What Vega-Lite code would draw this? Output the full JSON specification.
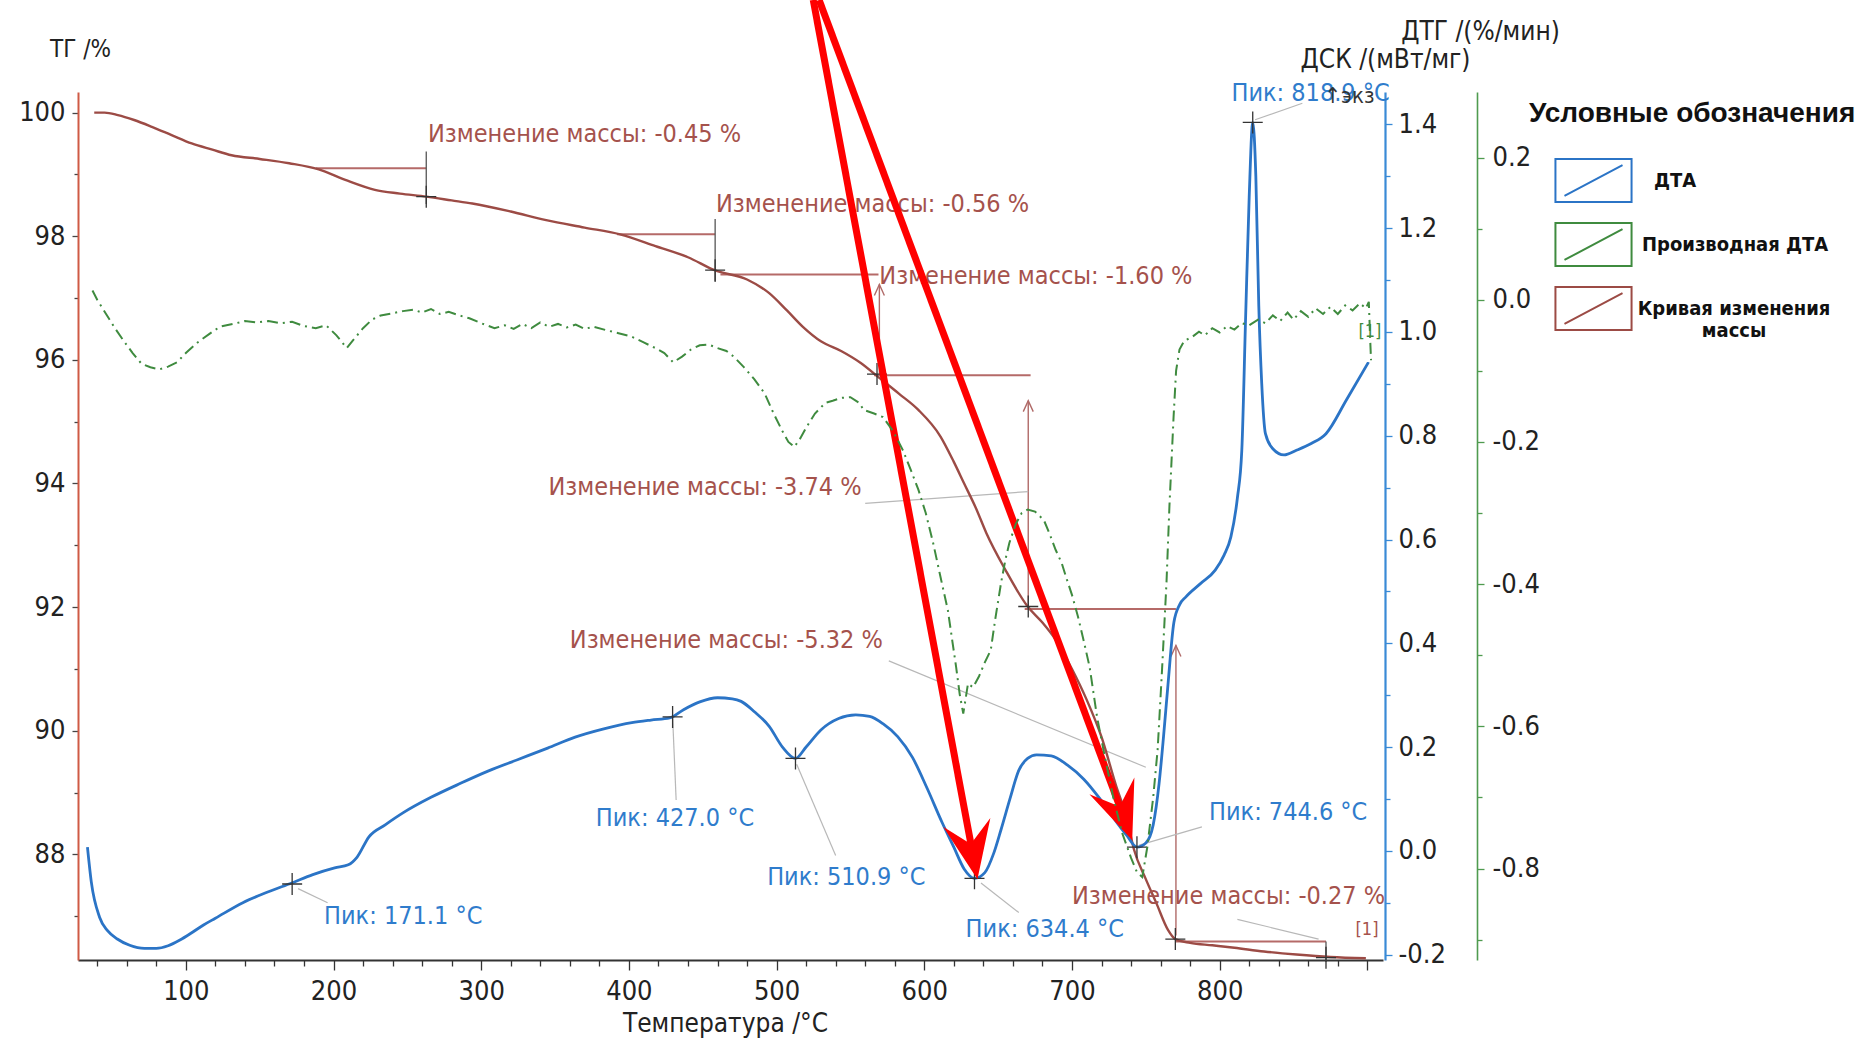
{
  "$schema": "https://vega.github.io/schema/vega-lite/v6.json",
  "width": 1305,
  "height": 868,
  "autosize": {"type": "none"},
  "padding": {"left": 78, "top": 92, "right": 475, "bottom": 80},
  "background": "white",
  "config": {
    "view": {"stroke": null},
    "font": "Liberation Sans Narrow, Arial Narrow, DejaVu Sans Condensed, sans-serif",
    "axis": {
      "grid": false,
      "labelFont": "Liberation Sans Narrow, Arial Narrow, DejaVu Sans Condensed, sans-serif",
      "labelFontSize": 27,
      "labelColor": "#222",
      "titleFont": "Liberation Sans Narrow, Arial Narrow, DejaVu Sans Condensed, sans-serif",
      "titleFontSize": 26,
      "titleFontWeight": "normal",
      "titleColor": "#222",
      "labelOverlap": false,
      "labelFlush": false,
      "tickWidth": 1.3
    }
  },
  "datasets": {
    "tg": [
      {"t": 38, "v": 100.0}, {"t": 45, "v": 100.0}, {"t": 54, "v": 99.96}, {"t": 65, "v": 99.88}, {"t": 77, "v": 99.77},
      {"t": 90, "v": 99.64}, {"t": 104, "v": 99.5}, {"t": 118, "v": 99.4}, {"t": 131, "v": 99.31}, {"t": 150, "v": 99.25},
      {"t": 170, "v": 99.18}, {"t": 190, "v": 99.08}, {"t": 208, "v": 98.91}, {"t": 228, "v": 98.75}, {"t": 245, "v": 98.69},
      {"t": 263, "v": 98.64}, {"t": 280, "v": 98.58}, {"t": 294, "v": 98.53}, {"t": 320, "v": 98.4}, {"t": 344, "v": 98.26},
      {"t": 370, "v": 98.14}, {"t": 394, "v": 98.03}, {"t": 418, "v": 97.84}, {"t": 440, "v": 97.66}, {"t": 458, "v": 97.45},
      {"t": 480, "v": 97.3}, {"t": 495, "v": 97.08}, {"t": 507, "v": 96.8}, {"t": 518, "v": 96.53}, {"t": 530, "v": 96.3},
      {"t": 544, "v": 96.14}, {"t": 557, "v": 95.95}, {"t": 570, "v": 95.7}, {"t": 583, "v": 95.45}, {"t": 596, "v": 95.19},
      {"t": 611, "v": 94.76}, {"t": 620, "v": 94.35}, {"t": 627, "v": 94.0}, {"t": 635, "v": 93.6}, {"t": 642, "v": 93.2},
      {"t": 655, "v": 92.6}, {"t": 670, "v": 92.01}, {"t": 680, "v": 91.75}, {"t": 689, "v": 91.47}, {"t": 700, "v": 91.0},
      {"t": 710, "v": 90.5}, {"t": 720, "v": 89.9}, {"t": 730, "v": 89.1}, {"t": 737, "v": 88.6}, {"t": 742, "v": 88.08},
      {"t": 750, "v": 87.6}, {"t": 757, "v": 87.22}, {"t": 765, "v": 86.78}, {"t": 770, "v": 86.63}, {"t": 780, "v": 86.57},
      {"t": 795, "v": 86.53}, {"t": 810, "v": 86.49}, {"t": 830, "v": 86.43}, {"t": 852, "v": 86.38}, {"t": 875, "v": 86.34},
      {"t": 899, "v": 86.32}
    ],
    "dsc": [
      {"t": 33.4, "v": 0.007}, {"t": 36, "v": -0.06}, {"t": 41.6, "v": -0.128}, {"t": 47, "v": -0.154}, {"t": 53.6, "v": -0.17},
      {"t": 62, "v": -0.182}, {"t": 72, "v": -0.188}, {"t": 80, "v": -0.188}, {"t": 88, "v": -0.183}, {"t": 96, "v": -0.172},
      {"t": 104, "v": -0.158}, {"t": 112, "v": -0.143}, {"t": 120, "v": -0.13}, {"t": 138.6, "v": -0.1}, {"t": 155, "v": -0.08},
      {"t": 171.7, "v": -0.062}, {"t": 186, "v": -0.046},
      {"t": 200.8, "v": -0.033}, {"t": 210, "v": -0.027}, {"t": 216, "v": -0.012}, {"t": 224, "v": 0.027}, {"t": 235, "v": 0.05},
      {"t": 247, "v": 0.073}, {"t": 266, "v": 0.103}, {"t": 286, "v": 0.13}, {"t": 305, "v": 0.154}, {"t": 325, "v": 0.176},
      {"t": 345, "v": 0.198}, {"t": 363.6, "v": 0.219}, {"t": 383, "v": 0.235}, {"t": 402, "v": 0.247}, {"t": 415, "v": 0.252},
      {"t": 427.6, "v": 0.256}, {"t": 437, "v": 0.272}, {"t": 448, "v": 0.287}, {"t": 460, "v": 0.295}, {"t": 470, "v": 0.293},
      {"t": 476, "v": 0.288}, {"t": 485, "v": 0.268}, {"t": 495, "v": 0.24}, {"t": 504, "v": 0.2}, {"t": 512.8, "v": 0.178},
      {"t": 520, "v": 0.2}, {"t": 530, "v": 0.233}, {"t": 542, "v": 0.255}, {"t": 553.6, "v": 0.262}, {"t": 563, "v": 0.259},
      {"t": 572, "v": 0.245}, {"t": 582, "v": 0.22}, {"t": 592, "v": 0.18}, {"t": 602, "v": 0.12}, {"t": 612, "v": 0.055},
      {"t": 620, "v": 0.007}, {"t": 627, "v": -0.035}, {"t": 634, "v": -0.053}, {"t": 641, "v": -0.042}, {"t": 647, "v": -0.005},
      {"t": 652, "v": 0.041}, {"t": 658, "v": 0.1}, {"t": 664, "v": 0.155}, {"t": 670, "v": 0.178}, {"t": 676, "v": 0.185},
      {"t": 686, "v": 0.183}, {"t": 697, "v": 0.165}, {"t": 708, "v": 0.138}, {"t": 719, "v": 0.1}, {"t": 729, "v": 0.06},
      {"t": 737, "v": 0.03}, {"t": 744, "v": 0.007}, {"t": 750, "v": 0.015}, {"t": 755, "v": 0.05}, {"t": 759, "v": 0.13},
      {"t": 762, "v": 0.22}, {"t": 765, "v": 0.32}, {"t": 769, "v": 0.44}, {"t": 773, "v": 0.475}, {"t": 777, "v": 0.489},
      {"t": 787, "v": 0.515}, {"t": 797, "v": 0.541}, {"t": 803, "v": 0.57}, {"t": 807.6, "v": 0.605}, {"t": 812, "v": 0.68},
      {"t": 815, "v": 0.772}, {"t": 817.6, "v": 1.03}, {"t": 820, "v": 1.26}, {"t": 822.4, "v": 1.404}, {"t": 824.5, "v": 1.3},
      {"t": 826.5, "v": 1.05}, {"t": 828.5, "v": 0.9}, {"t": 831, "v": 0.804}, {"t": 836, "v": 0.775}, {"t": 843.6, "v": 0.763},
      {"t": 852, "v": 0.772}, {"t": 862, "v": 0.785}, {"t": 872, "v": 0.804}, {"t": 886, "v": 0.87}, {"t": 900.8, "v": 0.942}
    ],
    "dtg": [
      {"t": 36.8, "v": 0.013}, {"t": 40, "v": 0.0}, {"t": 46, "v": -0.02}, {"t": 52, "v": -0.04}, {"t": 58, "v": -0.058},
      {"t": 64, "v": -0.075}, {"t": 70, "v": -0.09}, {"t": 76, "v": -0.095}, {"t": 82, "v": -0.098}, {"t": 88, "v": -0.094},
      {"t": 94, "v": -0.088}, {"t": 100, "v": -0.075}, {"t": 108, "v": -0.06}, {"t": 116, "v": -0.048}, {"t": 123, "v": -0.038},
      {"t": 132, "v": -0.034}, {"t": 140, "v": -0.03}, {"t": 148, "v": -0.032}, {"t": 156, "v": -0.03}, {"t": 164, "v": -0.033},
      {"t": 172, "v": -0.031}, {"t": 180, "v": -0.037}, {"t": 188, "v": -0.04}, {"t": 195, "v": -0.036}, {"t": 202, "v": -0.05},
      {"t": 209, "v": -0.068}, {"t": 214, "v": -0.055}, {"t": 220, "v": -0.04}, {"t": 226, "v": -0.028}, {"t": 232, "v": -0.022},
      {"t": 240, "v": -0.019}, {"t": 247, "v": -0.016}, {"t": 254, "v": -0.014}, {"t": 260, "v": -0.018}, {"t": 266, "v": -0.013},
      {"t": 272, "v": -0.02}, {"t": 278, "v": -0.017}, {"t": 285, "v": -0.022}, {"t": 292, "v": -0.026}, {"t": 300, "v": -0.033},
      {"t": 309, "v": -0.04}, {"t": 316, "v": -0.036}, {"t": 322, "v": -0.041}, {"t": 328, "v": -0.034}, {"t": 334, "v": -0.04},
      {"t": 340, "v": -0.032}, {"t": 346, "v": -0.038}, {"t": 352, "v": -0.034}, {"t": 358, "v": -0.039}, {"t": 364, "v": -0.035},
      {"t": 370, "v": -0.041}, {"t": 376, "v": -0.038}, {"t": 385, "v": -0.043}, {"t": 393, "v": -0.047}, {"t": 402, "v": -0.052},
      {"t": 410, "v": -0.06}, {"t": 418, "v": -0.068}, {"t": 424, "v": -0.075}, {"t": 430, "v": -0.088}, {"t": 436, "v": -0.08},
      {"t": 442, "v": -0.07}, {"t": 448, "v": -0.064}, {"t": 454, "v": -0.063}, {"t": 460, "v": -0.068}, {"t": 466, "v": -0.072},
      {"t": 471, "v": -0.08}, {"t": 478, "v": -0.095}, {"t": 485, "v": -0.112}, {"t": 492, "v": -0.132}, {"t": 498, "v": -0.16},
      {"t": 504, "v": -0.185}, {"t": 508, "v": -0.2}, {"t": 512, "v": -0.207}, {"t": 516, "v": -0.195}, {"t": 520, "v": -0.18},
      {"t": 526, "v": -0.16}, {"t": 533, "v": -0.145}, {"t": 538, "v": -0.142}, {"t": 544, "v": -0.138}, {"t": 550, "v": -0.137},
      {"t": 556, "v": -0.145}, {"t": 559, "v": -0.155}, {"t": 566, "v": -0.16}, {"t": 572, "v": -0.165}, {"t": 579, "v": -0.185},
      {"t": 585.6, "v": -0.212}, {"t": 591, "v": -0.24}, {"t": 596, "v": -0.267}, {"t": 601, "v": -0.3}, {"t": 606, "v": -0.342},
      {"t": 611, "v": -0.39}, {"t": 616, "v": -0.437}, {"t": 619, "v": -0.48}, {"t": 621.6, "v": -0.517}, {"t": 624, "v": -0.555},
      {"t": 626.4, "v": -0.582}, {"t": 629.6, "v": -0.54}, {"t": 633, "v": -0.545}, {"t": 637, "v": -0.53}, {"t": 641, "v": -0.51},
      {"t": 645, "v": -0.493}, {"t": 648, "v": -0.45}, {"t": 652, "v": -0.398}, {"t": 655, "v": -0.365}, {"t": 657.6, "v": -0.342},
      {"t": 662, "v": -0.315}, {"t": 666, "v": -0.3}, {"t": 670, "v": -0.295}, {"t": 675, "v": -0.298}, {"t": 681, "v": -0.31},
      {"t": 685, "v": -0.33}, {"t": 689, "v": -0.352}, {"t": 693, "v": -0.37}, {"t": 696, "v": -0.39}, {"t": 700, "v": -0.415},
      {"t": 704, "v": -0.445}, {"t": 708, "v": -0.48}, {"t": 712, "v": -0.517}, {"t": 717, "v": -0.587}, {"t": 722, "v": -0.64},
      {"t": 728, "v": -0.7}, {"t": 734, "v": -0.75}, {"t": 740, "v": -0.785}, {"t": 744, "v": -0.805}, {"t": 747.6, "v": -0.812},
      {"t": 751, "v": -0.77}, {"t": 755, "v": -0.7}, {"t": 758, "v": -0.633}, {"t": 761, "v": -0.52}, {"t": 764, "v": -0.398},
      {"t": 766, "v": -0.29}, {"t": 768.8, "v": -0.165}, {"t": 770.5, "v": -0.1}, {"t": 772.8, "v": -0.07}, {"t": 776, "v": -0.058},
      {"t": 781.6, "v": -0.052}, {"t": 786, "v": -0.045}, {"t": 790, "v": -0.05}, {"t": 795, "v": -0.04}, {"t": 800, "v": -0.046},
      {"t": 805, "v": -0.037}, {"t": 810, "v": -0.042}, {"t": 815, "v": -0.033}, {"t": 820, "v": -0.036}, {"t": 826, "v": -0.028},
      {"t": 831, "v": -0.033}, {"t": 836, "v": -0.022}, {"t": 841, "v": -0.03}, {"t": 846, "v": -0.018}, {"t": 850, "v": -0.028},
      {"t": 855, "v": -0.016}, {"t": 860, "v": -0.024}, {"t": 865, "v": -0.012}, {"t": 870, "v": -0.02}, {"t": 875, "v": -0.01},
      {"t": 880, "v": -0.02}, {"t": 885, "v": -0.008}, {"t": 890, "v": -0.015}, {"t": 895, "v": -0.005}, {"t": 899, "v": -0.012},
      {"t": 901, "v": -0.003}, {"t": 902, "v": -0.06}, {"t": 902.5, "v": -0.085}
    ],
    "tgh": [
      {"t": 188, "t2": 262.8, "v": 99.1, "v2": 99.1},
      {"t": 392, "t2": 458.4, "v": 98.03, "v2": 98.03},
      {"t": 462, "t2": 569, "v": 97.38, "v2": 97.38},
      {"t": 566, "t2": 672, "v": 95.75, "v2": 95.75},
      {"t": 668, "t2": 770.4, "v": 91.97, "v2": 91.97},
      {"t": 770, "t2": 872, "v": 86.59, "v2": 86.59}
    ],
    "tgv": [
      {"t": 262.8, "t2": 262.8, "v": 99.37, "v2": 98.52},
      {"t": 458.4, "t2": 458.4, "v": 98.28, "v2": 97.26},
      {"t": 872, "t2": 872, "v": 86.59, "v2": 86.26}
    ],
    "tga": [
      {"t": 569.6, "t2": 569.6, "v": 95.77, "v2": 97.22},
      {"t": 670.4, "t2": 670.4, "v": 92.01, "v2": 95.34},
      {"t": 770.4, "t2": 770.4, "v": 86.69, "v2": 91.38}
    ],
    "tgl": [
      {"t": 560, "t2": 670.4, "v": 93.68, "v2": 93.87},
      {"t": 576, "t2": 750, "v": 91.13, "v2": 89.41},
      {"t": 812, "t2": 867, "v": 86.95, "v2": 86.63}
    ],
    "tgx": [
      {"t": 262.8, "v": 98.64}, {"t": 458.4, "v": 97.45}, {"t": 568, "v": 95.77},
      {"t": 670.4, "v": 92.01}, {"t": 770, "v": 86.63}, {"t": 872, "v": 86.33}
    ],
    "tgtext": [
      {"t": 264, "v": 99.655, "label": "Изменение массы: -0.45 %"},
      {"t": 459, "v": 98.52, "label": "Изменение массы: -0.56 %"},
      {"t": 569.6, "v": 97.36, "label": "Изменение массы: -1.60 %"},
      {"t": 345.6, "v": 93.95, "label": "Изменение массы: -3.74 %"},
      {"t": 360, "v": 91.47, "label": "Изменение массы: -5.32 %"},
      {"t": 700, "v": 87.32, "label": "Изменение массы: -0.27 %"}
    ],
    "tgref": [{"t": 892, "v": 86.78, "label": "[1]"}],
    "dsctext": [
      {"t": 193.6, "v": -0.126, "label": "Пик: 171.1 °C"},
      {"t": 377.6, "v": 0.064, "label": "Пик: 427.0 °C"},
      {"t": 493.6, "v": -0.05, "label": "Пик: 510.9 °C"},
      {"t": 628, "v": -0.151, "label": "Пик: 634.4 °C"},
      {"t": 792.8, "v": 0.075, "label": "Пик: 744.6 °C"},
      {"t": 808, "v": 1.461, "label": "Пик: 818.9 °C"}
    ],
    "exo": [{"t": 871, "v": 1.455, "label": "↑экз"}],
    "dscx": [
      {"t": 172, "v": -0.064}, {"t": 429.6, "v": 0.258}, {"t": 512.8, "v": 0.178},
      {"t": 634, "v": -0.053}, {"t": 744, "v": 0.007}, {"t": 822.4, "v": 1.404}
    ],
    "dscl": [
      {"t": 176, "t2": 196, "v": -0.073, "v2": -0.1},
      {"t": 429.6, "t2": 432, "v": 0.258, "v2": 0.098},
      {"t": 513.6, "t2": 540, "v": 0.167, "v2": -0.009},
      {"t": 638.4, "t2": 664, "v": -0.062, "v2": -0.119},
      {"t": 745.6, "t2": 788, "v": 0.011, "v2": 0.046},
      {"t": 824, "t2": 856, "v": 1.409, "v2": 1.441}
    ],
    "shafts": [
      {"t": 524.8, "v": 1.64, "t2": 631.7, "v2": 0.0114},
      {"t": 528.8, "v": 1.64, "t2": 732.6, "v2": 0.0836}
    ],
    "heads": [
      {"t": 636, "v": -0.055, "k": "a"},
      {"t": 740.8, "v": 0.0205, "k": "b"}
    ],
    "dtgref": [{"t": 894, "v": -0.045, "label": "[1]"}]
  },
  "resolve": {"scale": {"y": "independent"}},
  "encoding": {
    "x": {
      "field": "t",
      "type": "quantitative",
      "scale": {"domain": [27, 910.6], "nice": false, "zero": false},
      "axis": {
        "orient": "bottom",
        "values": [40, 60, 80, 100, 120, 140, 160, 180, 200, 220, 240, 260, 280, 300, 320, 340, 360, 380, 400, 420, 440, 460, 480, 500, 520, 540, 560, 580, 600, 620, 640, 660, 680, 700, 720, 740, 760, 780, 800, 820, 840, 860, 880, 900],
        "labelExpr": "datum.value % 100 === 0 && datum.value < 900 ? datum.label : ''",
        "tickSize": {"condition": {"test": "datum.value % 100 === 0", "value": 10}, "value": 6},
        "tickColor": "#333",
        "labelPadding": 8,
        "domainColor": "#333",
        "domainWidth": 2,
        "title": "Температура /°C",
        "titleX": 647,
        "titleY": 63,
        "titleAlign": "center",
        "titleBaseline": "middle"
      }
    }
  },
  "layer": [
    {
      "encoding": {
        "y": {
          "field": "v",
          "type": "quantitative",
          "scale": {"domain": [86.292, 100.333], "nice": false, "zero": false},
          "axis": {
            "orient": "left",
            "values": [87, 88, 89, 90, 91, 92, 93, 94, 95, 96, 97, 98, 99, 100],
            "labelExpr": "datum.value % 2 === 0 ? datum.label : ''",
            "tickSize": {"condition": {"test": "datum.value % 2 === 0", "value": 6}, "value": 4},
            "tickColor": "#444",
            "labelPadding": 7,
            "domainColor": "#cf5a45",
            "domainWidth": 2,
            "title": "ТГ /%",
            "titleAngle": 0,
            "titleX": 2,
            "titleY": -43,
            "titleAlign": "center",
            "titleBaseline": "middle",
            "titleFontSize": 24
          }
        }
      },
      "layer": [
        {
          "data": {"name": "tgh"},
          "mark": {"type": "rule", "color": "#b56a68", "strokeWidth": 2},
          "encoding": {"x2": {"field": "t2"}, "y2": {"field": "v2"}}
        },
        {
          "data": {"name": "tgv"},
          "mark": {"type": "rule", "color": "#555", "strokeWidth": 1.3},
          "encoding": {"x2": {"field": "t2"}, "y2": {"field": "v2"}}
        },
        {
          "data": {"name": "tga"},
          "mark": {"type": "rule", "color": "#b06a68", "strokeWidth": 1.4},
          "encoding": {"x2": {"field": "t2"}, "y2": {"field": "v2"}}
        },
        {
          "data": {"name": "tga"},
          "mark": {"type": "point", "shape": "M-5,11L0,0L5,11", "size": 4, "filled": false, "opacity": 1, "stroke": "#b06a68", "strokeWidth": 1.4},
          "encoding": {"x": {"field": "t2", "type": "quantitative"}, "y": {"field": "v2", "type": "quantitative"}}
        },
        {
          "data": {"name": "tgl"},
          "mark": {"type": "rule", "color": "#b8b8b8", "strokeWidth": 1.2},
          "encoding": {"x2": {"field": "t2"}, "y2": {"field": "v2"}}
        },
        {
          "data": {"name": "tg"},
          "mark": {"type": "line", "strokeWidth": 2.4, "interpolate": "monotone"},
          "encoding": {
            "color": {
              "datum": "Кривая изменения массы",
              "type": "nominal",
              "scale": {
                "domain": ["ДТА", "Производная ДТА", "Кривая изменения массы"],
                "range": ["#2b74c6", "#3f8b3f", "#9c4b45"]
              },
              "legend": {
                "orient": "none",
                "legendX": 1451,
                "legendY": 8,
                "direction": "vertical",
                "title": "Условные обозначения",
                "titleFont": "Liberation Sans, Arial, sans-serif",
                "titleFontSize": 28,
                "titleFontWeight": "bold",
                "titleColor": "#111",
                "titlePadding": 30,
                "titleLimit": 500,
                "symbolType": "M-1.77,-1H1.77V1H-1.77Z M-1.35,0.72L1.35,-0.72",
                "symbolSize": 1849,
                "symbolStrokeWidth": 2,
                "symbolOffset": 42,
                "labelOffset": 26,
                "labelFont": "Liberation Sans Narrow, Arial Narrow, DejaVu Sans Condensed, sans-serif",
                "labelFontSize": 20,
                "labelFontWeight": "bold",
                "labelColor": "#111",
                "labelLimit": 400,
                "rowPadding": 13,
                "labelExpr": "datum.value === 'Кривая изменения массы' ? ['Кривая изменения', 'массы'] : datum.label",
                "encode": {
                  "symbols": {
                    "update": {
                      "stroke": {"signal": "datum.value === 'ДТА' ? '#2060d0' : datum.value === 'Производная ДТА' ? '#17801a' : '#e01c1c'"},
                      "strokeDash": {"value": []},
                      "fill": {"value": "transparent"}
                    }
                  },
                  "labels": {
                    "update": {
                      "align": {"signal": "datum.value === 'Кривая изменения массы' ? 'center' : 'left'"},
                      "dx": {"signal": "datum.value === 'Кривая изменения массы' ? 92 : (datum.value === 'ДТА' ? 12 : 0)"}
                    }
                  }
                }
              }
            }
          }
        },
        {
          "data": {"name": "tgx"},
          "mark": {"type": "point", "shape": "M-10,0H10M0,-11V11", "size": 4, "filled": false, "opacity": 1, "stroke": "#333", "strokeWidth": 1.3}
        },
        {
          "data": {"name": "tgtext"},
          "mark": {"type": "text", "align": "left", "baseline": "middle", "fontSize": 25, "color": "#a5524c"},
          "encoding": {"text": {"field": "label"}}
        },
        {
          "data": {"name": "tgref"},
          "mark": {"type": "text", "align": "left", "baseline": "middle", "fontSize": 18, "color": "#a5524c"},
          "encoding": {"text": {"field": "label"}}
        }
      ]
    },
    {
      "encoding": {
        "y": {
          "field": "v",
          "type": "quantitative",
          "scale": {"domain": [-0.2105, 1.4626], "nice": false, "zero": false},
          "axis": {
            "orient": "right",
            "offset": 2,
            "values": [-0.2, -0.1, 0, 0.1, 0.2, 0.3, 0.4, 0.5, 0.6, 0.7, 0.8, 0.9, 1.0, 1.1, 1.2, 1.3, 1.4],
            "labelExpr": "abs(round(datum.value * 10)) % 2 === 0 ? (datum.value < -0.001 ? '-' : '') + format(abs(datum.value), '.1f') : ''",
            "tickSize": {"condition": {"test": "abs(round(datum.value * 10)) % 2 === 0", "value": 7}, "value": 5},
            "tickColor": "#3a8ad6",
            "labelPadding": 6,
            "domainColor": "#3a8ad6",
            "domainWidth": 2.2,
            "title": "ДСК /(мВт/мг)",
            "titleAngle": 0,
            "titleX": 0,
            "titleY": -33,
            "titleAlign": "center",
            "titleBaseline": "middle",
            "titleFontSize": 26
          }
        }
      },
      "layer": [
        {
          "data": {"name": "dscl"},
          "mark": {"type": "rule", "color": "#b8b8b8", "strokeWidth": 1.2},
          "encoding": {"x2": {"field": "t2"}, "y2": {"field": "v2"}}
        },
        {
          "data": {"name": "dsc"},
          "mark": {"type": "line", "strokeWidth": 2.8, "interpolate": "monotone"},
          "encoding": {"color": {"datum": "ДТА", "type": "nominal"}}
        },
        {
          "data": {"name": "dscx"},
          "mark": {"type": "point", "shape": "M-10,0H10M0,-11V11", "size": 4, "filled": false, "opacity": 1, "stroke": "#333", "strokeWidth": 1.3}
        },
        {
          "data": {"name": "dsctext"},
          "mark": {"type": "text", "align": "left", "baseline": "middle", "fontSize": 25, "color": "#2f7ccc"},
          "encoding": {"text": {"field": "label"}}
        },
        {
          "data": {"name": "exo"},
          "mark": {"type": "text", "align": "left", "baseline": "middle", "fontSize": 22, "color": "#333"},
          "encoding": {"text": {"field": "label"}}
        },
        {
          "data": {"name": "shafts"},
          "mark": {"type": "rule", "color": "#ff0000", "strokeWidth": 7, "strokeCap": "butt"},
          "encoding": {"x2": {"field": "t2"}, "y2": {"field": "v2"}}
        },
        {
          "data": {"name": "heads"},
          "transform": [{"filter": "datum.k === 'a'"}],
          "mark": {"type": "point", "shape": "M0,0L-24,-58L0,-36L24,-58Z", "size": 4, "filled": true, "opacity": 1, "color": "#ff0000", "angle": 349.4}
        },
        {
          "data": {"name": "heads"},
          "transform": [{"filter": "datum.k === 'b'"}],
          "mark": {"type": "point", "shape": "M0,0L-24,-58L0,-36L24,-58Z", "size": 4, "filled": true, "opacity": 1, "color": "#ff0000", "angle": 339.5}
        }
      ]
    },
    {
      "encoding": {
        "y": {
          "field": "v",
          "type": "quantitative",
          "scale": {"domain": [-0.9286, 0.2922], "nice": false, "zero": false},
          "axis": {
            "orient": "right",
            "offset": 94,
            "values": [-0.9, -0.8, -0.7, -0.6, -0.5, -0.4, -0.3, -0.2, -0.1, 0, 0.1, 0.2],
            "labelExpr": "abs(round(datum.value * 10)) % 2 === 0 ? (datum.value < -0.001 ? '-' : '') + format(abs(datum.value), '.1f') : ''",
            "tickSize": {"condition": {"test": "abs(round(datum.value * 10)) % 2 === 0", "value": 7}, "value": 5},
            "tickColor": "#4f9b4f",
            "labelPadding": 8,
            "domainColor": "#4f9b4f",
            "domainWidth": 1.6,
            "title": "ДТГ /(%/мин)",
            "titleAngle": 0,
            "titleX": 3,
            "titleY": -61,
            "titleAlign": "center",
            "titleBaseline": "middle",
            "titleFontSize": 26
          }
        }
      },
      "layer": [
        {
          "data": {"name": "dtg"},
          "mark": {"type": "line", "strokeWidth": 2, "strokeDash": [11, 5, 2, 5]},
          "encoding": {"color": {"datum": "Производная ДТА", "type": "nominal"}}
        },
        {
          "data": {"name": "dtgref"},
          "mark": {"type": "text", "align": "left", "baseline": "middle", "fontSize": 18, "color": "#3f8b3f"},
          "encoding": {"text": {"field": "label"}}
        }
      ]
    }
  ]
}
